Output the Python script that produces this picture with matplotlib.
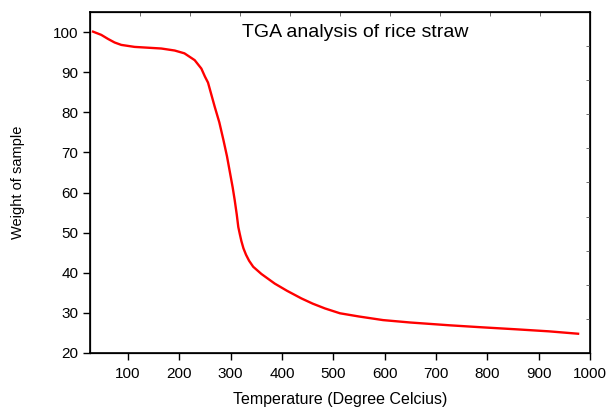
import matplotlib
matplotlib.use("Agg")
import matplotlib.pyplot as plt
import numpy as np

temperature = [32, 48, 61, 74, 87, 113, 139, 165, 191, 210, 230, 243, 250, 256, 269, 278, 286, 293, 299, 304, 308, 312, 315, 318, 321, 325, 330, 336, 344, 360, 386, 410, 438, 460, 484, 513, 550, 597, 650, 727, 790, 857, 920, 977]
weight = [100.1, 99.3, 98.3, 97.4, 96.8, 96.3, 96.1, 95.9, 95.4, 94.7, 93.0, 90.9, 88.9, 87.4, 81.4, 77.5, 73.1, 69.0, 64.8, 61.3, 58.1, 54.5, 51.4, 49.6, 47.9, 46.1, 44.5, 43.0, 41.5, 39.7, 37.3, 35.5, 33.6, 32.3, 31.1, 29.9, 29.1, 28.2, 27.6, 26.9, 26.4, 25.9, 25.4, 24.8]
x_ticks = [100, 200, 300, 400, 500, 600, 700, 800, 900, 1000]
y_ticks = [20, 30, 40, 50, 60, 70, 80, 90, 100]

plt.rcParams['font.family'] = ['Liberation Sans', 'DejaVu Sans']

fig = plt.figure(figsize=(6.1, 4.07), dpi=100)
ax = fig.add_axes([0.1475, 0.1327, 0.8195, 0.8378])
ax.plot(temperature, weight, color='red', lw=1.7, solid_joinstyle='round')
ax.set_xlim(26, 1000)
ax.set_ylim(20, 105)
ax.set_xticks(x_ticks)
ax.set_yticks(y_ticks)
ax.tick_params(axis='both', direction='out', length=5, width=1, labelsize=11, top=False, right=False)
ax.tick_params(axis='x', pad=5)
for s in ax.spines.values():
    s.set_linewidth(1.2)
ax.set_xlabel('Temperature (Degree Celcius)', fontsize=11.5, labelpad=8)
ax.set_ylabel('Weight of sample', fontsize=10.5, labelpad=20)
ax.text(0.53, 0.94, 'TGA analysis of rice straw', transform=ax.transAxes, ha='center', va='center', fontsize=14)

# minor inward ticks on top and right spines
ax2 = ax.twiny()
ax2.set_xlim(0, 1)
ax2.set_xticks(np.arange(0.1, 1.0, 0.1))
ax2.tick_params(axis='x', direction='in', length=3, width=0.6, labeltop=False, color='#555555')
ax3 = ax.twinx()
ax3.set_ylim(0, 1)
ax3.set_yticks(np.arange(0.1, 1.0, 0.1))
ax3.tick_params(axis='y', direction='in', length=3, width=0.6, labelright=False, color='#555555')

fig.savefig('out.png', dpi=100)
